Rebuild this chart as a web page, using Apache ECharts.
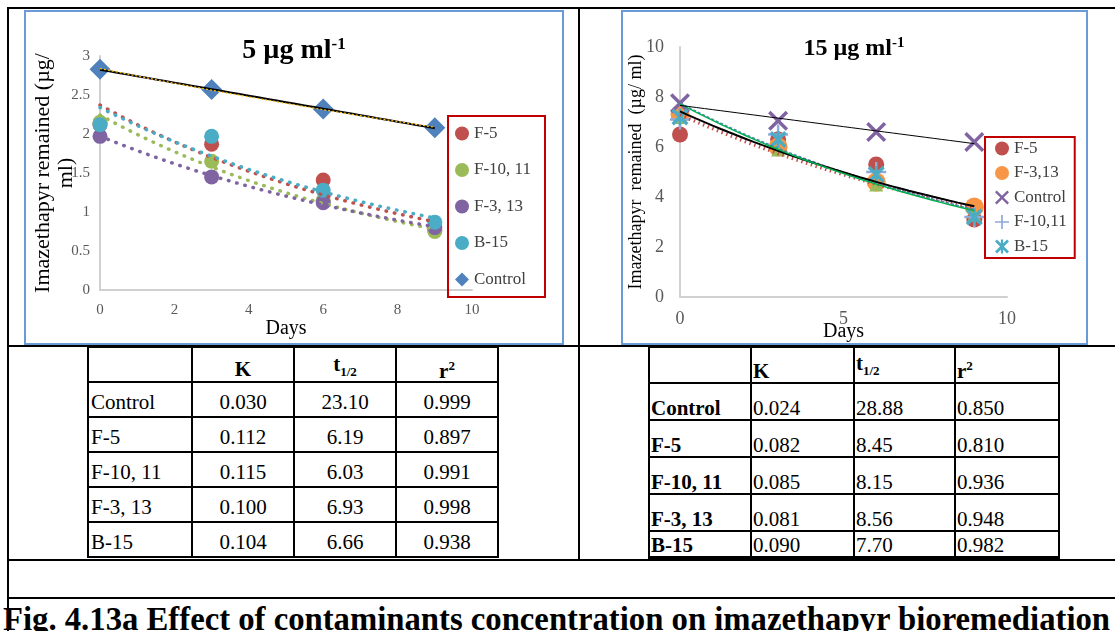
<!DOCTYPE html>
<html lang="en">
<head>
<meta charset="UTF-8">
<title>Imazethapyr bioremediation</title>
<script src="https://cdn.jsdelivr.net/npm/echarts@6/dist/echarts.min.js"></script>
<style>
  body { margin: 0; background: #fff; }
  #page { position: relative; width: 1115px; height: 631px; overflow: hidden;
          font-family: "Liberation Serif", "Times New Roman", "DejaVu Serif", serif; }
  .ln { position: absolute; background: #000; }
  .frame { position: absolute; border: 2px solid #6b9bd6; box-sizing: border-box; }
  .chart { position: absolute; }
  .cell { position: absolute; display: flex; box-sizing: border-box; font-size: 21px;
          line-height: 24px; white-space: nowrap; color: #000;
          font-family: "Liberation Serif", "Times New Roman", serif; }
  .cell sub, .cell sup { font-size: 13px; }
  #caption { position: absolute; left: 3px; top: 601px; font-size: 33px; font-weight: bold;
             white-space: nowrap; line-height: 36px; transform-origin: 0 0; }
</style>
</head>
<body>
<div id="page">
  <div class="frame" style="left:24px;top:10px;width:540px;height:335px;"></div>
  <div class="frame" style="left:621px;top:10px;width:467px;height:335px;"></div>
  <div id="left" class="chart" style="left:25px;top:11px;width:538px;height:332px;"></div>
  <div id="right" class="chart" style="left:622px;top:11px;width:464px;height:332px;"></div>
  <div id="caption">Fig. 4.13a Effect of contaminants concentration on imazethapyr bioremediation</div>
</div>
<script type="text/javascript">
// sampling days
const days = [0, 3, 6, 9];

// 5 ug/ml - imazethapyr remained
const ctrl5   = [2.83, 2.57, 2.32, 2.08];
const f5_5    = [2.12, 1.87, 1.41, 0.77];
const f1011_5 = [2.15, 1.65, 1.15, 0.75];
const f313_5  = [1.97, 1.45, 1.12, 0.80];
const b15_5   = [2.12, 1.97, 1.28, 0.87];

// 15 ug/ml - imazethapyr remained
const f5_15    = [6.5, 6.3, 5.3, 3.1];
const f313_15  = [7.3, 6.0, 4.6, 3.6];
const ctrl15   = [7.75, 7.05, 6.6, 6.2];
const f1011_15 = [7.1, 6.5, 5.0, 3.2];
const b15_15   = [7.2, 6.3, 4.9, 3.2];
const extra15  = [7.2, 5.9, 4.5, 3.3];

// kinetics tables
const tblHead = ['', 'K', 't<sub>1/2</sub>', 'r<sup>2</sup>'];
const tblRows = ['Control', 'F-5', 'F-10, 11', 'F-3, 13', 'B-15'];
const k5  = ['0.030', '0.112', '0.115', '0.100', '0.104'];
const t5  = ['23.10', '6.19', '6.03', '6.93', '6.66'];
const r5  = ['0.999', '0.897', '0.991', '0.998', '0.938'];
const k15 = ['0.024', '0.082', '0.085', '0.081', '0.090'];
const t15 = ['28.88', '8.45', '8.15', '8.56', '7.70'];
const r15 = ['0.850', '0.810', '0.936', '0.948', '0.982'];

const FONT = '"Liberation Serif", "Times New Roman", serif';
const page = document.getElementById('page');

function box(cls, x, y, w, h, html, css) {
  const d = document.createElement('div');
  d.className = cls;
  d.style.left = x + 'px'; d.style.top = y + 'px';
  d.style.width = w + 'px'; d.style.height = h + 'px';
  if (css) Object.assign(d.style, css);
  if (html !== undefined) d.innerHTML = '<span>' + html + '</span>';
  page.appendChild(d);
  return d;
}

// outer document table lines
box('ln', 7, 7, 1108, 2);
box('ln', 7, 7, 2, 624);
box('ln', 578, 7, 2, 554);
box('ln', 7, 345, 1108, 2);
box('ln', 7, 559, 1108, 2);
box('ln', 7, 597, 1108, 2);

function table(colX, rowY, cols, centered, boldFirst, bottomW) {
  colX.forEach(x => box('ln', x - 1, rowY[0] - 1, 2, rowY[rowY.length - 1] - rowY[0] + 2));
  rowY.forEach((y, i) => {
    const w = i === rowY.length - 1 ? bottomW : 2;
    box('ln', colX[0] - 1, y - 1, colX[colX.length - 1] - colX[0] + 2, w);
  });
  for (let r = 0; r <= tblRows.length; r++) {
    for (let c = 0; c < 4; c++) {
      const txt = r === 0 ? tblHead[c] : (c === 0 ? tblRows[r - 1] : cols[c - 1][r - 1]);
      const bold = r === 0 || (boldFirst && c === 0);
      const css = { fontWeight: bold ? 'bold' : 'normal' };
      if (centered) {
        css.alignItems = 'center';
        css.justifyContent = c === 0 ? 'flex-start' : 'center';
        css.paddingLeft = c === 0 ? '3px' : '0';
        css.paddingTop = r === 0 ? '8px' : '5px';
      } else {
        css.alignItems = 'flex-end';
        css.justifyContent = 'flex-start';
        css.paddingLeft = '2px';
      }
      box('cell', colX[c], rowY[r], colX[c + 1] - colX[c], rowY[r + 1] - rowY[r], txt, css);
    }
  }
}
table([88, 192, 294, 396, 498], [347, 382, 417, 452, 487, 522, 557], [k5, t5, r5], true, false, 2);
table([649, 751, 854, 955, 1059], [347, 383, 420, 457, 494, 531, 557], [k15, t15, r15], false, true, 3);

// squeeze the caption to the row width
const cap = document.getElementById('caption');
cap.style.transform = 'scaleX(' + (1107 / cap.scrollWidth) + ')';

// trendlines fitted from the plotted points
function expFit(xs, ys) {
  const n = xs.length, ly = ys.map(Math.log);
  const mx = xs.reduce((s, v) => s + v, 0) / n, my = ly.reduce((s, v) => s + v, 0) / n;
  let sxy = 0, sxx = 0;
  xs.forEach((x, i) => { sxy += (x - mx) * (ly[i] - my); sxx += (x - mx) * (x - mx); });
  const b = sxy / sxx, a = my - b * mx;
  return t => Math.exp(a + b * t);
}
function linFit(xs, ys) {
  const n = xs.length;
  const mx = xs.reduce((s, v) => s + v, 0) / n, my = ys.reduce((s, v) => s + v, 0) / n;
  let sxy = 0, sxx = 0;
  xs.forEach((x, i) => { sxy += (x - mx) * (ys[i] - my); sxx += (x - mx) * (x - mx); });
  const b = sxy / sxx, a = my - b * mx;
  return t => a + b * t;
}
function trend(f) {
  const out = [], x0 = days[0], x1 = days[days.length - 1];
  for (let i = 0; i <= 36; i++) { const t = x0 + (x1 - x0) * i / 36; out.push([t, f(t)]); }
  return out;
}
const pts = ys => days.map((d, i) => [d, ys[i]]);

function scatter(name, ys, color, symbol, size) {
  return { name, type: 'scatter', data: pts(ys), symbol, symbolSize: size,
           itemStyle: { color, opacity: 1 }, z: 2, silent: true };
}
function tline(data, color, width, type, cap) {
  return { type: 'line', data, showSymbol: false, silent: true, z: 3,
           lineStyle: { color, width, type, cap: cap || 'butt' } };
}

function axes(xMax, xInt, yMax, yInt, labSize, xMargin, yMargin, yName, nameSize, yGap, xGap) {
  const lab = { color: '#595959', fontFamily: FONT, fontSize: labSize };
  const line = { show: true, lineStyle: { color: '#d0d0d0', width: 2 } };
  return {
    xAxis: { type: 'value', min: 0, max: xMax, interval: xInt, axisLine: line,
             axisTick: { show: false }, splitLine: { show: false },
             axisLabel: Object.assign({ margin: xMargin }, lab),
             name: 'Days', nameLocation: 'middle', nameGap: xGap, nameMoveOverlap: false,
             nameTextStyle: { fontFamily: FONT, fontSize: 20, color: '#000' } },
    yAxis: { type: 'value', min: 0, max: yMax, interval: yInt, axisLine: line,
             axisTick: { show: false }, splitLine: { show: false },
             axisLabel: Object.assign({ margin: yMargin }, lab),
             name: yName, nameLocation: 'middle', nameRotate: 90, nameGap: yGap, nameMoveOverlap: false,
             nameTextStyle: { fontFamily: FONT, fontSize: nameSize, color: '#000', lineHeight: 23 } }
  };
}

function title(main, size, supSize, top) {
  return { left: 'center', top,
           text: '{a|' + main + '}{s|-1}',
           textStyle: { rich: {
             a: { fontFamily: FONT, fontWeight: 'bold', fontSize: size, color: '#000', lineHeight: size + 2 },
             s: { fontFamily: FONT, fontWeight: 'bold', fontSize: supSize, color: '#000',
                  verticalAlign: 'top', lineHeight: supSize + 2 } } } };
}

// 5 ug/ml chart
const leftChart = echarts.init(document.getElementById('left'));
leftChart.setOption(Object.assign({
  animation: false,
  title: title('5 µg ml', 28, 17, 20),
  grid: { left: 75, top: 45, width: 372, height: 234, outerBoundsMode: 'none' },
  legend: {
    orient: 'vertical', left: 423, top: 105,
    data: ['F-5', 'F-10, 11', 'F-3, 13', 'B-15', 'Control'],
    borderColor: '#c00000', borderWidth: 2, borderRadius: 0, padding: [9, 14, 9, 7],
    itemWidth: 14, itemHeight: 14, itemGap: 19.5,
    textStyle: { fontFamily: FONT, fontSize: 17, color: '#404040', lineHeight: 17 }
  },
  series: [
    scatter('F-5', f5_5, '#c0504d', 'circle', 15),
    scatter('F-10, 11', f1011_5, '#9bbb59', 'circle', 15),
    scatter('F-3, 13', f313_5, '#8064a2', 'circle', 15),
    scatter('B-15', b15_5, '#4bacc6', 'circle', 15),
    scatter('Control', ctrl5, '#4f81bd', 'diamond', 21),
    tline(trend(expFit(days, f5_5)), '#c0504d', 3.5, [0.5, 8], 'round'),
    tline(trend(expFit(days, f1011_5)), '#9bbb59', 3.5, [0.5, 8], 'round'),
    tline(trend(expFit(days, f313_5)), '#8064a2', 3.5, [0.5, 8], 'round'),
    tline(trend(expFit(days, b15_5)), '#4bacc6', 3.5, [0.5, 8], 'round'),
    tline(trend(linFit(days, ctrl5)), '#000', 2, 'solid'),
    tline(trend(expFit(days, ctrl5)), '#ffc000', 1.2, [2, 2])
  ]
}, axes(10, 2, 3, 0.5, 15, 13, 10, 'Imazethapyr remained (µg/\nml)', 22, 22, 29)));

// 15 ug/ml chart
const X_PATH = 'path://M0,1.2L1.2,0L5,3.8L8.8,0L10,1.2L6.2,5L10,8.8L8.8,10L5,6.2L1.2,10L0,8.8L3.8,5Z';
const PLUS_PATH = 'path://M4.4,0H5.6V4.4H10V5.6H5.6V10H4.4V5.6H0V4.4H4.4Z';
const STAR_PATH = 'path://M0,1.4L1.4,0L5,3.6L8.6,0L10,1.4L6.4,5L10,8.6L8.6,10L5,6.4L1.4,10L0,8.6L3.6,5ZM4.2,0H5.8V10H4.2Z';

const rightChart = echarts.init(document.getElementById('right'));
rightChart.setOption(Object.assign({
  animation: false,
  title: title('15 µg ml', 24, 15, 20),
  grid: { left: 58, top: 36, width: 327, height: 250, outerBoundsMode: 'none' },
  legend: {
    orient: 'vertical', left: 363, top: 126,
    data: ['F-5', 'F-3,13', 'Control', 'F-10,11', 'B-15'],
    borderColor: '#c00000', borderWidth: 2, borderRadius: 0, padding: [3, 8, 3, 10],
    itemWidth: 14, itemHeight: 14, itemGap: 7.5,
    textStyle: { fontFamily: FONT, fontSize: 17, color: '#404040', lineHeight: 17 }
  },
  series: [
    scatter('F-5', f5_15, '#c0504d', 'circle', 16),
    scatter('F-3,13', f313_15, '#f79646', 'circle', 19),
    scatter('Series 6', extra15, '#9bbb59', 'triangle', 14),
    scatter('Control', ctrl15, '#8064a2', X_PATH, 20),
    scatter('F-10,11', f1011_15, '#8ea9db', PLUS_PATH, 20),
    scatter('B-15', b15_15, '#4bacc6', STAR_PATH, 17),
    tline(trend(expFit(days, f5_15)), '#c0504d', 3.5, [1.5, 3.5]),
    tline(trend(expFit(days, f1011_15)), '#4f81bd', 1.5, [3, 2]),
    tline(trend(expFit(days, f313_15)), '#000', 2, 'solid'),
    tline(trend(expFit(days, b15_15)), '#00b050', 1.5, 'solid'),
    tline(trend(linFit(days, ctrl15)), '#000', 1, 'solid')
  ]
}, axes(10, 5, 10, 2, 18, 13, 16, 'Imazethapyr  remained  (µg/ ml)', 18, 32, 25)));
</script>
</body>
</html>
